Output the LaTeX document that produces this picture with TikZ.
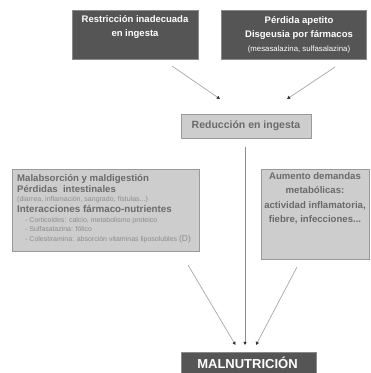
\documentclass[tikz,border=0pt]{standalone}
\usepackage{fontspec}
\setmainfont{Liberation Sans}
\usetikzlibrary{arrows.meta}
\definecolor{darkfill}{HTML}{555555}
\definecolor{darkedge}{HTML}{8A8A8A}
\definecolor{lightfill}{HTML}{CDCDCD}
\definecolor{lightedge}{HTML}{9A9A9A}
\definecolor{txtgray}{HTML}{6A6A6A}
\definecolor{txtlight}{HTML}{8C8C8C}
\definecolor{linegray}{HTML}{A8A8A8}
\definecolor{tipgray}{HTML}{333333}
\tikzset{
  darkbox/.style={draw=darkedge, line width=0.8pt, fill=darkfill, text=white, font=\bfseries\fontsize{9.5}{14}\selectfont, align=center, inner sep=0pt},
  lightbox/.style={draw=lightedge, line width=0.9pt, fill=lightfill, text=txtgray, font=\bfseries\fontsize{9.6}{14.5}\selectfont, align=center, inner sep=0pt},
  flow/.style={draw=linegray, line width=0.7pt, -{Triangle[length=3.2pt,width=3.2pt,fill=tipgray,color=tipgray]}},
  ltxt/.style={anchor=base west, inner sep=0pt, text=txtgray, font=\bfseries\fontsize{9.6}{10}\selectfont},
  stxt/.style={anchor=base west, inner sep=0pt, text=txtlight, font=\fontsize{7}{8}\selectfont},
}
\begin{document}
\begin{tikzpicture}[x=1pt,y=-1pt]
\useasboundingbox[fill=white] (0,0) rectangle (371,373);
% top boxes
\node[darkbox, minimum width=126pt, minimum height=49pt] (A) at (135,34.5) {Restricción inadecuada\\en ingesta\\[-2pt]\strut};
\node[darkbox, minimum width=145pt, minimum height=49pt] (B) at (293.5,34.5) {};
\node[darkbox, draw=none, fill=none] (Bt) at (299,34.5) {Pérdida apetito\\Disgeusia por fármacos\\{\mdseries\fontsize{7.8}{8}\selectfont(mesasalazina, sulfasalazina)}};
% reduction box
\node[lightbox, minimum width=130pt, minimum height=24pt, font=\bfseries\fontsize{10.5}{12}\selectfont] (C) at (246,126) {Reducción en ingesta};
% left box
\node[lightbox, minimum width=187pt, minimum height=82pt] (L) at (105.5,210) {};
\node[ltxt] (L1) at (17,181.5) {Malabsorción y maldigestión};
\node[ltxt] (L2) at (17,192.5) {Pérdidas\ \ intestinales};
\node[stxt] (L3) at (17,201) {(diarrea, inflamación, sangrado, fístulas...)};
\node[ltxt, font=\bfseries\fontsize{9.8}{11}\selectfont] (L4) at (17,212.5) {Interacciones fármaco-nutrientes};
\node[stxt] (L5) at (25,222.5) {- Corticoides: calcio, metabolismo proteico};
\node[stxt] (L6) at (25,231.5) {- Sulfasalazina: fólico};
\node[stxt] (L7) at (25,241.5) {- Colestiramina: absorción vitaminas liposolubles {\fontsize{8.5}{9}\selectfont(D)}};
% right box
\node[lightbox, minimum width=108pt, minimum height=90pt] (R) at (315,214) {};
\node[lightbox, draw=none, fill=none, anchor=north] (Rt) at (315,172) {Aumento demandas\\metabólicas:\\actividad inflamatoria,\\fiebre, infecciones...};
% bottom box
\node[darkbox, minimum width=135pt, minimum height=30pt, anchor=north] (M) at (248.5,352) {};
\node[anchor=base, inner sep=0pt, text=white, font=\bfseries\fontsize{13}{14}\selectfont] (Mt) at (247.5,368.5) {MALNUTRICIÓN};
% connectors
\coordinate (a1) at (172,66);
\coordinate (a1e) at (220,99);
\coordinate (b1) at (335,67);
\coordinate (b1e) at (287,99);
\coordinate (c1) at (245,147);
\coordinate (c1e) at (245,345);
\coordinate (l1) at (188,265);
\coordinate (l1e) at (235.5,345);
\coordinate (r1) at (297,267);
\coordinate (r1e) at (256,345);
\draw[flow] (a1) -- (a1e);
\draw[flow] (b1) -- (b1e);
\draw[flow, draw=txtlight] (c1) -- (c1e);
\draw[flow] (l1) -- (l1e);
\draw[flow] (r1) -- (r1e);
\end{tikzpicture}
\end{document}
